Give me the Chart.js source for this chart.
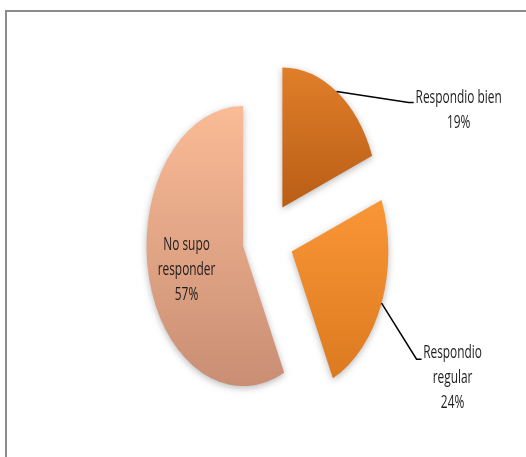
<!DOCTYPE html>
<html>
<head>
<meta charset="utf-8">
<script src="https://cdn.jsdelivr.net/npm/chart.js@4"></script>
<style>
  html, body { margin: 0; padding: 0; background: #fff; }
  #wrap { position: relative; width: 526px; height: 457px; overflow: hidden; }
  #frame { position: absolute; left: 5px; top: 10px; right: 0; bottom: 0;
           border-top: 2px solid #8c8c8c; border-left: 2px solid #8c8c8c; }
  canvas { position: absolute; left: 0; top: 0; }
</style>
</head>
<body>
<div id="wrap">
  <div id="frame"></div>
  <canvas id="chartPie" width="526" height="457"></canvas>
</div>
<script>
/* ===== Encuesta - pastel de respuestas ===== */

var categories  = ['Respondio bien', 'Respondio regular', 'No supo responder'];
var percentages = [19, 24, 57];
// label text split over rows, the percentage goes on the last row
var labelRows   = [['Respondio bien'], ['Respondio', 'regular'], ['No supo', 'responder']];

// top / bottom colour of each slice's vertical gradient
var sliceColors = [['#e07e29', '#b95e16'], ['#fa9636', '#dc7a20'], ['#fabb96', '#c98e74']];

var SQUASH = 0.69;        // pie is drawn as an upright ellipse
var EXPLODE = 37;         // distance every slice is pulled out
var TEXT_SQUASH = 0.66;
var LINE_H = 25;
var FONT = '18px "Open Sans", "Liberation Sans", sans-serif';

// leader line: elbow relative to slice edge, tick length, text centre relative to tick end
var leaders = [
  { dx: 72, dy: 11, tick: 5, tx: 45, ty: -5 },
  { dx: 35, dy: 56, tick: 5, tx: 31, ty: -6 },
  null
];

function sliceGradient(c) {
  var chart = c.chart, area = chart.chartArea, i = c.dataIndex;
  var cols = sliceColors[i];
  if (!area) return cols[0];
  var x0 = (area.left + area.right) / 2, y0 = (area.top + area.bottom) / 2;
  var r = Math.min(area.width, area.height) / 2;
  var total = percentages.reduce(function(a, b) { return a + b; }, 0);
  var before = 0;
  for (var k = 0; k < i; k++) before += percentages[k];
  var a0 = -Math.PI / 2 + 2 * Math.PI * before / total;
  var a1 = a0 + 2 * Math.PI * percentages[i] / total;
  var ys = [y0, y0 + r * Math.sin(a0), y0 + r * Math.sin(a1)];
  [-Math.PI / 2, Math.PI / 2, 3 * Math.PI / 2].forEach(function(a) {
    if (a > a0 && a < a1) ys.push(y0 + r * Math.sin(a));
  });
  var g = chart.ctx.createLinearGradient(x0, Math.min.apply(null, ys), x0, Math.max.apply(null, ys));
  g.addColorStop(0, cols[0]);
  g.addColorStop(1, cols[1]);
  return g;
}

// draws the slices pulled apart and squeezed into an ellipse, with a soft shadow
var explodedPie = {
  id: 'explodedPie',
  beforeDatasetsDraw: function(chart) {
    var ctx = chart.ctx, arcs = chart.getDatasetMeta(0).data;
    if (!arcs.length) return false;
    var cx = arcs[0].x;
    ctx.save();
    ctx.translate(cx, 0);
    ctx.scale(SQUASH, 1);
    ctx.translate(-cx, 0);
    arcs.forEach(function(arc) {
      var mid = (arc.startAngle + arc.endAngle) / 2;
      ctx.save();
      ctx.shadowColor = 'rgba(0,0,0,0.28)';
      ctx.shadowBlur = 7;
      ctx.shadowOffsetY = 2;
      ctx.translate(Math.cos(mid) * EXPLODE, Math.sin(mid) * EXPLODE);
      arc.draw(ctx);
      ctx.restore();
    });
    ctx.restore();
    return false;
  }
};

function drawText(ctx, text, x, y) {
  ctx.save();
  ctx.translate(x, y);
  ctx.scale(TEXT_SQUASH, 1);
  ctx.fillText(text, 0, 0);
  ctx.restore();
}

var sliceLabels = {
  id: 'sliceLabels',
  afterDraw: function(chart) {
    var ctx = chart.ctx;
    chart.getDatasetMeta(0).data.forEach(function(arc, i) {
      var mid = (arc.startAngle + arc.endAngle) / 2;
      var cos = Math.cos(mid), sin = Math.sin(mid);
      function px(d) { return arc.x + cos * d * SQUASH; }
      function py(d) { return arc.y + sin * d; }
      var rows = labelRows[i].concat(percentages[i] + '%');
      var lead = leaders[i], tx, ty;
      if (lead) {
        var edge = EXPLODE + arc.outerRadius;
        var ax = px(edge), ay = py(edge);
        var ex = ax + lead.dx, ey = ay + lead.dy;
        ctx.save();
        ctx.strokeStyle = '#000';
        ctx.lineWidth = 1.5;
        ctx.beginPath();
        ctx.moveTo(ax, ay);
        ctx.lineTo(ex, ey);
        ctx.lineTo(ex + lead.tick, ey);
        ctx.stroke();
        ctx.restore();
        tx = ex + lead.tick + lead.tx;
        ty = ey + lead.ty;
      } else {
        var d = EXPLODE + arc.outerRadius * 0.6;
        tx = px(d);
        ty = py(d) + 5 - LINE_H * (rows.length - 1) / 2;
      }
      ctx.save();
      ctx.font = FONT;
      ctx.fillStyle = '#1e1e1e';
      ctx.textAlign = 'center';
      ctx.textBaseline = 'middle';
      rows.forEach(function(row, k) { drawText(ctx, row, tx, ty + k * LINE_H); });
      ctx.restore();
    });
  }
};

var ctxPie = document.getElementById('chartPie').getContext('2d');
var chartPie = new Chart(ctxPie, {
  type: 'pie',
  data: { labels: categories, datasets: [{
    data: percentages,
    backgroundColor: sliceGradient,
    borderWidth: 0, hoverOffset: 0, offset: 0
  }] },
  options: {
    responsive: false, maintainAspectRatio: false,
    animation: false,
    events: [],
    layout: { padding: { left: 10, right: 0, top: 98, bottom: 79 } },
    plugins: { legend: { display: false }, tooltip: { enabled: false } }
  },
  plugins: [explodedPie, sliceLabels]
});
</script>
</body>
</html>
